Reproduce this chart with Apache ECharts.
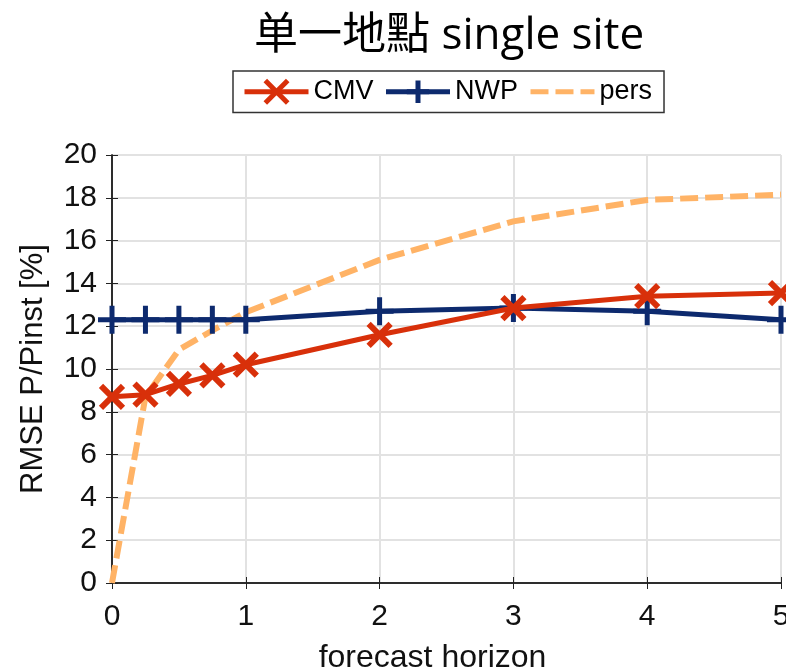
<!DOCTYPE html>
<html>
<head>
<meta charset="utf-8">
<script src="https://cdn.jsdelivr.net/npm/echarts@6/dist/echarts.min.js"></script>
<style>
  html, body { margin: 0; padding: 0; background: #fff; }
  #chart { width: 786px; height: 669px; }
</style>
</head>
<body>
<div id="chart"></div>
<script>
// forecast horizon (x) and RMSE values
const horizon = [0, 0.25, 0.5, 0.75, 1, 2, 3, 4, 5];
const cmv  = [8.7, 8.8, 9.3, 9.7, 10.2, 11.6, 12.85, 13.4, 13.55];
const nwp  = [12.3, 12.3, 12.3, 12.3, 12.3, 12.7, 12.85, 12.7, 12.3];
const pers = [0, 8.7, 10.9, 11.8, 12.65, 15.1, 16.9, 17.9, 18.15];
const seriesNames = ['CMV', 'NWP', 'pers'];

const pair = (ys) => horizon.map((x, i) => [x, ys[i]]);

const xMark = 'path://M0,0L10,10M0,10L10,0';
const plusMark = 'path://M5,0L5,10M0,5L10,5';
const font = "'Liberation Sans', Arial, sans-serif";
const red = '#d8300a', navy = '#0d2a6e', orange = '#ffb366';

// box axes (top / right) share this look
const boxAxis = {
  axisLine: { show: true, lineStyle: { color: '#222', width: 1.5 } },
  axisTick: { show: true, inside: true, length: 6, lineStyle: { color: '#222' } },
  axisLabel: { show: false },
  splitLine: { show: false }
};

const chart = echarts.init(document.getElementById('chart'));
chart.setOption({
  animation: false,
  title: {
    text: '单一地點 single site',
    left: 249,
    top: 9,
    textStyle: {
      fontFamily: "'Open Sans', 'Noto Sans CJK TC', sans-serif",
      fontWeight: 'normal',
      fontSize: 44,
      color: '#000'
    }
  },
  legend: {
    top: 71,
    left: 233,
    data: [
      { name: seriesNames[0] },
      { name: seriesNames[1] },
      { name: seriesNames[2], itemStyle: { opacity: 0 } }
    ],
    itemWidth: 64,
    itemHeight: 28,
    itemGap: 10,
    padding: [7, 12, 7, 9],
    borderColor: '#333',
    borderWidth: 1.5,
    itemStyle: { borderWidth: 5 },
    lineStyle: { width: 5 },
    textStyle: { fontFamily: font, fontSize: 27, color: '#000' }
  },
  grid: { left: 112, right: 5, top: 155, bottom: 86, outerBoundsMode: 'none' },
  xAxis: [{
    type: 'value', min: 0, max: 5, interval: 1,
    name: 'forecast horizon', nameLocation: 'middle', nameGap: 59,
    nameTextStyle: { fontFamily: font, fontSize: 32, color: '#111', padding: [0, 28, 0, 0] },
    axisLine: { show: true, lineStyle: { color: '#222', width: 1.5 } },
    axisTick: { show: true, inside: true, length: 6, lineStyle: { color: '#222' } },
    axisLabel: { fontFamily: font, fontSize: 30, color: '#111', margin: 19 },
    splitLine: { show: true, lineStyle: { color: '#e2e2e2', width: 2 } }
  }, Object.assign({ type: 'value', min: 0, max: 5, interval: 1, position: 'top' }, boxAxis)],
  yAxis: [{
    type: 'value', min: 0, max: 20, interval: 2,
    name: 'RMSE P/Pinst [%]', nameLocation: 'middle', nameGap: 63,
    nameTextStyle: { fontFamily: font, fontSize: 31, color: '#111' },
    axisLine: { show: true, lineStyle: { color: '#222', width: 1.5 } },
    axisTick: { show: true, inside: true, length: 6, lineStyle: { color: '#222' } },
    axisLabel: { fontFamily: font, fontSize: 30, color: '#111', margin: 15 },
    splitLine: { show: true, lineStyle: { color: '#e2e2e2', width: 2 } }
  }, Object.assign({ type: 'value', min: 0, max: 20, interval: 2, position: 'right' }, boxAxis)],
  series: [
    {
      name: 'pers', type: 'line', data: pair(pers), z: 1,
      showSymbol: false,
      lineStyle: { color: orange, width: 6, type: [18, 7] },
      itemStyle: { color: orange }
    },
    {
      name: 'NWP', type: 'line', data: pair(nwp), z: 2,
      symbol: plusMark, symbolSize: 28,
      lineStyle: { color: navy, width: 5 },
      itemStyle: { color: navy, borderColor: navy, borderWidth: 5 }
    },
    {
      name: 'CMV', type: 'line', data: pair(cmv), z: 3,
      symbol: xMark, symbolSize: 22,
      lineStyle: { color: red, width: 5 },
      itemStyle: { color: red, borderColor: red, borderWidth: 6 }
    }
  ]
});
</script>
</body>
</html>
